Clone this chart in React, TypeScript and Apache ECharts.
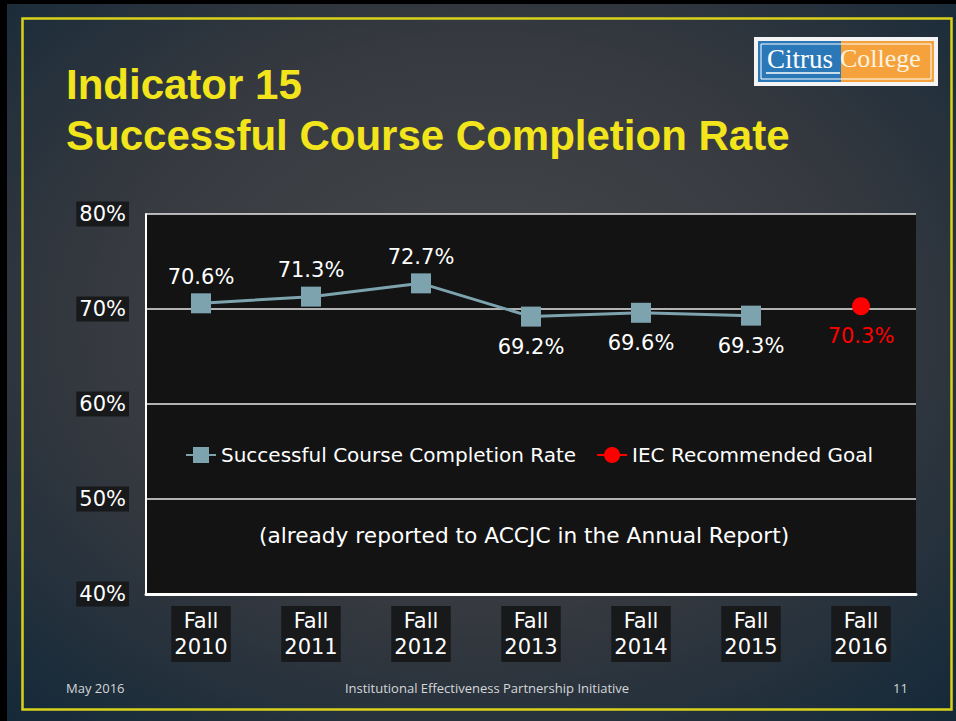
import React, { useEffect, useRef } from "react";
import * as echarts from "echarts";

const categories = ["Fall\n2010", "Fall\n2011", "Fall\n2012", "Fall\n2013", "Fall\n2014", "Fall\n2015", "Fall\n2016"];
const completionRate = [70.6, 71.3, 72.7, 69.2, 69.6, 69.3, null];
const labelAbove = [true, true, true, false, false, false, false];
const goal = [null, null, null, null, null, null, 70.3];
const yTicks = { min: 40, max: 80, interval: 10 };

const FONT = "'DejaVu Sans', 'Open Sans', sans-serif";

export default function App() {
  const ref = useRef<HTMLDivElement>(null);
  useEffect(() => {
    if (!ref.current) return;
    const chart = echarts.init(ref.current, null, { renderer: "svg" });
    const lineData = completionRate.map((v, i) => ({
      value: v,
      label: {
        position: labelAbove[i] ? "top" : "bottom",
        distance: labelAbove[i] ? 6 : 10,
      },
    }));
    chart.setOption({
      animation: false,
      backgroundColor: {
        type: "radial",
        x: 0.5,
        y: 0.45,
        r: 0.8,
        colorStops: [
          { offset: 0, color: "#46484c" },
          { offset: 0.5, color: "#36393f" },
          { offset: 1, color: "#0e2638" },
        ],
      },
      grid: {
        left: 146,
        top: 214,
        right: 40,
        bottom: 127,
        show: true,
        backgroundColor: "#131313",
        borderWidth: 0,
      },
      xAxis: {
        type: "category",
        data: categories,
        axisLine: { lineStyle: { color: "#ffffff", width: 3 } },
        axisTick: { show: false },
        axisLabel: {
          color: "#ffffff",
          fontFamily: FONT,
          fontSize: 21,
          lineHeight: 26,
          margin: 12,
          backgroundColor: "#17191b",
          padding: [2, 3, 2, 3],
        },
      },
      yAxis: {
        type: "value",
        min: yTicks.min,
        max: yTicks.max,
        interval: yTicks.interval,
        axisLine: { show: true, lineStyle: { color: "#ffffff", width: 2 } },
        axisTick: { show: false },
        splitLine: { lineStyle: { color: "#e8e8e8", width: 1.5 } },
        axisLabel: {
          formatter: "{value}%",
          color: "#ffffff",
          fontFamily: FONT,
          fontSize: 21,
          margin: 17,
          backgroundColor: "#17191b",
          padding: [2, 3, 2, 3],
        },
      },
      legend: {
        left: 180,
        top: 440,
        itemWidth: 30,
        itemHeight: 20,
        itemGap: 20,
        textStyle: { color: "#ffffff", fontFamily: FONT, fontSize: 20 },
        data: ["Successful Course Completion Rate", "IEC Recommended Goal"],
      },
      series: [
        {
          name: "Successful Course Completion Rate",
          type: "line",
          data: lineData,
          symbol: "rect",
          symbolSize: 20,
          lineStyle: { color: "#7ca3ae", width: 3 },
          itemStyle: { color: "#7ca3ae" },
          label: {
            show: true,
            color: "#ffffff",
            fontFamily: FONT,
            fontSize: 21,
            formatter: (p: any) => p.value.toFixed(1) + "%",
          },
        },
        {
          name: "IEC Recommended Goal",
          type: "line",
          data: goal,
          symbol: "circle",
          symbolSize: 18,
          lineStyle: { color: "#ff0000", width: 2 },
          itemStyle: { color: "#ff0000" },
          label: {
            show: true,
            position: "bottom",
            distance: 10,
            color: "#ff0000",
            fontFamily: FONT,
            fontSize: 21,
            formatter: (p: any) => p.value.toFixed(1) + "%",
          },
        },
      ],
      graphic: [
        { type: "rect", shape: { x: 0, y: 0, width: 7, height: 721 }, style: { fill: "#000" } },
        { type: "rect", shape: { x: 0, y: 0, width: 956, height: 4 }, style: { fill: "#000" } },
        {
          type: "rect",
          shape: { x: 22.5, y: 18.5, width: 929, height: 691 },
          style: { fill: "none", stroke: "#d9d21a", lineWidth: 2.5 },
        },
        {
          type: "text",
          x: 66,
          y: 63,
          style: {
            text: "Indicator 15",
            fill: "#f2e51c",
            font: "bold 42px 'Liberation Sans', Arial, sans-serif",
          },
        },
        {
          type: "text",
          x: 66,
          y: 114,
          style: {
            text: "Successful Course Completion Rate",
            fill: "#f2e51c",
            font: "bold 42px 'Liberation Sans', Arial, sans-serif",
          },
        },
        {
          type: "text",
          x: 259,
          y: 524,
          style: {
            text: "(already reported to ACCJC in the Annual Report)",
            fill: "#ffffff",
            font: "21.7px 'DejaVu Sans', sans-serif",
          },
        },
        {
          type: "text",
          x: 66,
          y: 681,
          style: { text: "May 2016", fill: "#d4d7da", font: "13px 'Open Sans', sans-serif" },
        },
        {
          type: "text",
          x: 487,
          y: 681,
          style: {
            text: "Institutional Effectiveness Partnership Initiative",
            fill: "#d4d7da",
            align: "center",
            font: "13px 'Open Sans', sans-serif",
          },
        },
        {
          type: "text",
          x: 893,
          y: 681,
          style: { text: "11", fill: "#d4d7da", font: "13px 'Open Sans', sans-serif" },
        },
        { type: "rect", shape: { x: 754, y: 37, width: 184, height: 49 }, style: { fill: "#f4f4f4" } },
        { type: "rect", shape: { x: 758, y: 41, width: 83, height: 41 }, style: { fill: "#2a78b8" } },
        { type: "rect", shape: { x: 841, y: 41, width: 93, height: 41 }, style: { fill: "#f5a23d" } },
        {
          type: "rect",
          shape: { x: 761, y: 44, width: 170, height: 35 },
          style: { fill: "none", stroke: "#ffffff", lineWidth: 1 },
        },
        {
          type: "text",
          x: 767,
          y: 45,
          style: { text: "Citrus", fill: "#ffffff", font: "27px 'Liberation Serif', serif" },
        },
        {
          type: "line",
          shape: { x1: 766, y1: 73, x2: 840, y2: 73 },
          style: { stroke: "#ffffff", lineWidth: 1.5 },
        },
        {
          type: "text",
          x: 840,
          y: 45,
          style: { text: "College", fill: "#fff3e0", font: "26px 'Liberation Serif', serif" },
        },
      ],
    });
    return () => chart.dispose();
  }, []);
  return (
    <div
      ref={ref}
      style={{ position: "absolute", left: 0, top: 0, width: 956, height: 721 }}
    />
  );
}
